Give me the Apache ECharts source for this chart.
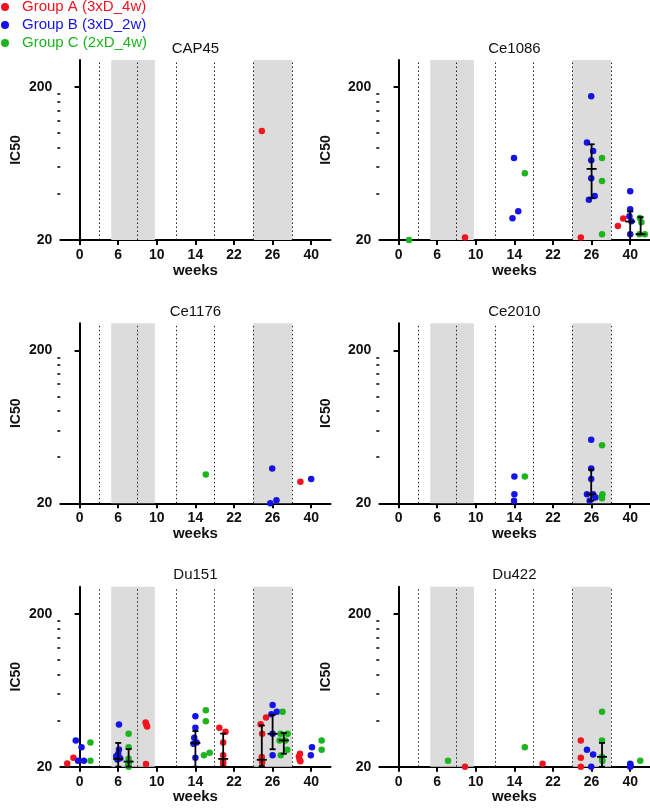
<!DOCTYPE html>
<html><head><meta charset="utf-8">
<script src="https://cdn.jsdelivr.net/npm/echarts@6/dist/echarts.min.js"></script>
<style>html,body{margin:0;padding:0;background:#fff}#c{width:650px;height:808px}</style>
</head><body><div id="c"></div>
<script>
// ---------- data ----------
const weekLabels = ['0', '6', '10', '14', '22', '26', '40'];
const xTickPositions = [0, 1, 2, 3, 4, 5, 6];
const dividerPositions = [0.5, 1.5, 2.5, 3.5, 4.5, 5.5];
const shadedBands = [[0.82, 1.95], [4.5, 5.5]];
const yMajorTicks = [20, 200];
const yMinorTicks = [40, 60, 80, 100, 120, 140, 160, 180];
const panelTitles = ['CAP45', 'Ce1086', 'Ce1176', 'Ce2010', 'Du151', 'Du422'];
const groupNames = ['Group A (3xD_4w)', 'Group B (3xD_2w)', 'Group C (2xD_4w)'];

// points: [x position on week axis (category index + group offset), IC50]
const cap45_A = [[4.72, 103]];
const cap45_B = [];
const cap45_C = [];
const cap45_bars = [];

const ce1086_A = [[1.72, 20.8], [4.72, 20.8], [5.68, 24.7], [5.82, 27.6]];
const ce1086_B = [[2.99, 68.7], [2.95, 27.7], [3.10, 30.8], [4.99, 174], [4.88, 86.6], [5.04, 76.4], [4.99, 66.4], [4.99, 50.6], [4.93, 36.7], [5.08, 38.8], [6.0, 41.6], [6.0, 31.8], [5.98, 28.6], [6.03, 26.5], [6.0, 21.8]];
const ce1086_C = [[0.27, 20], [3.27, 54.6], [5.27, 68.7], [5.27, 48.6], [5.27, 21.8], [6.25, 27.8], [6.29, 26.1], [6.24, 21.8], [6.38, 21.8]];
// error bars: [x, low, median, high]
const ce1086_bars = [[5.0, 37.5, 58.3, 84.4], [6.0, 20, 26.4, 30.7], [6.27, 21.8, 21.8, 28.2]];

const ce1176_A = [[5.72, 27.7]];
const ce1176_B = [[4.99, 33.7], [4.94, 20], [5.10, 20.9], [6.0, 28.8]];
const ce1176_C = [[3.27, 30.8]];
const ce1176_bars = [];

const ce2010_A = [];
const ce2010_B = [[3.0, 29.9], [3.0, 22.9], [2.99, 20.8], [4.99, 52], [4.99, 33.8], [4.99, 28.8], [4.88, 22.9], [5.04, 22.9], [5.10, 21.8], [4.95, 20.8]];
const ce2010_C = [[3.27, 29.9], [5.27, 47.9], [5.28, 22.9], [5.26, 22.2], [5.27, 21.6]];
const ce2010_bars = [[4.99, 20.8, 22.9, 33.2]];

const du151_A = [[-0.32, 21.0], [-0.16, 22.9], [1.71, 38.9], [1.73, 37.6], [1.75, 36.6], [1.72, 20.8], [3.62, 35.9], [3.78, 33.8], [3.72, 28.8], [3.72, 23.8], [3.72, 21.9], [3.72, 20.8], [4.69, 37.9], [4.83, 42.0], [4.73, 32.8], [4.72, 23.1], [4.72, 22.2], [4.73, 21.3], [5.71, 24.3], [5.68, 23.3], [5.70, 22.2], [5.72, 21.7]];
const du151_B = [[-0.10, 29.7], [0.05, 26.8], [-0.04, 21.9], [0.11, 21.9], [1.02, 37.7], [1.02, 25.9], [1.0, 24.3], [0.95, 23.4], [1.05, 22.7], [0.98, 22.3], [3.0, 42.8], [3.0, 35.9], [2.97, 30.9], [3.03, 28.8], [2.95, 28.2], [3.0, 22.9], [5.0, 50.6], [4.97, 44.0], [5.11, 45.7], [5.0, 32.8], [5.0, 23.8], [6.02, 26.8], [5.99, 23.8]];
const du151_C = [[0.28, 28.8], [0.28, 21.9], [1.27, 32.8], [1.27, 26.8], [1.27, 22.5], [1.28, 21.5], [1.26, 20.7], [1.27, 20.0], [3.27, 46.8], [3.27, 39.6], [3.37, 24.7], [3.22, 23.8], [5.26, 45.7], [5.21, 32.8], [5.39, 32.8], [5.18, 29.7], [5.33, 29.7], [5.38, 25.8], [5.21, 23.8], [6.27, 29.7], [6.27, 25.8]];
const du151_bars = [[1.0, 20, 22.5, 28.6], [1.27, 20, 21.6, 26.1], [3.0, 20, 28.6, 34.2], [3.72, 20, 22.5, 32.9], [4.72, 20.2, 22.2, 37.2], [5.0, 26.0, 32.8, 43.6], [5.29, 24.3, 29.7, 33.2]];

const du422_A = [[1.72, 20], [3.73, 20.9], [4.72, 29.7], [4.72, 22.9], [4.72, 20]];
const du422_B = [[4.88, 25.8], [5.04, 24.0], [4.99, 20], [6.0, 20.9], [6.01, 20.5], [6.0, 20]];
const du422_C = [[1.28, 21.9], [3.27, 26.8], [5.27, 45.7], [5.27, 29.7], [5.27, 23.2], [5.27, 22.2], [5.28, 21.8], [6.26, 21.9]];
const du422_bars = [[5.27, 20, 23.2, 28.6]];

const panelGroups = [
  [cap45_A, cap45_B, cap45_C],
  [ce1086_A, ce1086_B, ce1086_C],
  [ce1176_A, ce1176_B, ce1176_C],
  [ce2010_A, ce2010_B, ce2010_C],
  [du151_A, du151_B, du151_C],
  [du422_A, du422_B, du422_C]
];
const panelBars = [cap45_bars, ce1086_bars, ce1176_bars, ce2010_bars, du151_bars, du422_bars];

// ---------- style / layout ----------
const groupColors = ['#f0141e', '#1414e6', '#1eb41e'];
const FONT = "'Liberation Sans', Arial, Helvetica, sans-serif";
const gridLefts = [60.3, 379.3];
const gridWidth = 270.2;
const gridTops = [60, 323.3, 586.7];
const gridHeight = 180;
const yNameGaps = [37, 46];

const grids = [], xAxes = [], yAxes = [], titles = [], series = [];

function renderBar(params, api) {
  const x = api.value(0), lo = api.value(1), med = api.value(2), hi = api.value(3);
  const pLo = api.coord([x, lo]), pMed = api.coord([x, med]), pHi = api.coord([x, hi]);
  const cap = 3, mw = 5;
  const st = { stroke: '#000', lineWidth: 1.8 };
  return { type: 'group', children: [
    { type: 'line', shape: { x1: pLo[0], y1: pLo[1], x2: pHi[0], y2: pHi[1] }, style: st },
    { type: 'line', shape: { x1: pHi[0] - cap, y1: pHi[1], x2: pHi[0] + cap, y2: pHi[1] }, style: st },
    { type: 'line', shape: { x1: pLo[0] - cap, y1: pLo[1], x2: pLo[0] + cap, y2: pLo[1] }, style: st },
    { type: 'line', shape: { x1: pMed[0] - mw, y1: pMed[1], x2: pMed[0] + mw, y2: pMed[1] }, style: st }
  ]};
}

panelTitles.forEach((title, p) => {
  const col = p % 2, row = Math.floor(p / 2);
  const left = gridLefts[col], top = gridTops[row];
  grids.push({ left: left, top: top, width: gridWidth, height: gridHeight, containLabel: false, outerBoundsMode: 'none' });
  titles.push({ text: title, left: left + gridWidth / 2, top: top - 19, textAlign: 'center', padding: 0,
    textStyle: { fontFamily: FONT, fontSize: 15, fontWeight: 'normal', color: '#111' } });
  xAxes.push({
    gridIndex: p, type: 'value', min: -0.5, max: 6.5, position: 'bottom',
    axisLine: { show: true, lineStyle: { color: '#000', width: 2 } },
    axisTick: { show: true, customValues: xTickPositions, length: 5, lineStyle: { color: '#000', width: 2 } },
    axisLabel: { show: true, customValues: xTickPositions, margin: 8,
      formatter: v => weekLabels[Math.round(v)],
      fontFamily: FONT, fontSize: 14, fontWeight: 'bold', color: '#111' },
    splitLine: { show: false },
    name: 'weeks', nameLocation: 'middle', nameGap: 22,
    nameTextStyle: { fontFamily: FONT, fontSize: 15, fontWeight: 'bold', color: '#111' }
  });
  yAxes.push({
    gridIndex: p, type: 'log', logBase: 10, min: 20, max: 300, position: 'left',
    axisLine: { show: true, lineStyle: { color: '#000', width: 2 } },
    axisTick: { show: true, customValues: yMajorTicks, length: 5, lineStyle: { color: '#000', width: 2 } },
    axisLabel: { show: true, customValues: yMajorTicks, margin: 8,
      fontFamily: FONT, fontSize: 14, fontWeight: 'bold', color: '#111' },
    splitLine: { show: false },
    name: 'IC50', nameLocation: 'middle', nameRotate: 90, nameGap: yNameGaps[col],
    nameTextStyle: { fontFamily: FONT, fontSize: 14, fontWeight: 'bold', color: '#111' }
  });
  yAxes.push({
    gridIndex: p, type: 'log', logBase: 10, min: 20, max: 300, position: 'left', offset: 0,
    axisLine: { show: false },
    axisTick: { show: true, inside: false, customValues: yMinorTicks, length: 3, lineStyle: { color: '#000', width: 1.5 } },
    axisLabel: { show: false },
    splitLine: { show: false }
  });
  const xi = p, yi = 2 * p;
  // shaded bands
  series.push({ type: 'scatter', xAxisIndex: xi, yAxisIndex: yi, data: [], silent: true, z: 1,
    markArea: { silent: true, itemStyle: { color: '#dcdcdc' },
      data: shadedBands.map(b => [{ xAxis: b[0] }, { xAxis: b[1] }]) } });
  // dotted dividers
  series.push({ type: 'scatter', xAxisIndex: xi, yAxisIndex: yi, data: [], silent: true, z: 2,
    markLine: { silent: true, symbol: 'none', label: { show: false },
      lineStyle: { color: '#222', width: 1, type: [1.5, 2.5] },
      data: dividerPositions.map(d => ({ xAxis: d })) } });
  panelGroups[p].forEach((pts, g) => {
    series.push({ type: 'scatter', name: groupNames[g], xAxisIndex: xi, yAxisIndex: yi,
      data: pts, symbol: 'circle', symbolSize: 6.5, clip: false, z: 3,
      itemStyle: { color: groupColors[g], opacity: 1 }, emphasis: { disabled: true } });
  });
  series.push({ type: 'custom', xAxisIndex: xi, yAxisIndex: yi, data: panelBars[p], z: 4, silent: true,
    renderItem: renderBar, encode: { x: 0, y: [1, 2, 3] } });
});

const chart = echarts.init(document.getElementById('c'), null, { renderer: 'canvas' });
chart.setOption({
  animation: false,
  backgroundColor: '#fff',
  textStyle: { fontFamily: FONT },
  title: titles,
  legend: {
    orient: 'vertical', left: 1, top: -2, padding: 0, itemGap: 0, itemWidth: 8, itemHeight: 8,
    icon: 'circle', selectedMode: false,
    textStyle: { fontFamily: FONT, fontSize: 15, lineHeight: 18, padding: [0, 0, 0, 8] },
    data: groupNames.map((n, g) => ({ name: n, textStyle: { color: groupColors[g] } }))
  },
  grid: grids, xAxis: xAxes, yAxis: yAxes, series: series
});
</script></body></html>
